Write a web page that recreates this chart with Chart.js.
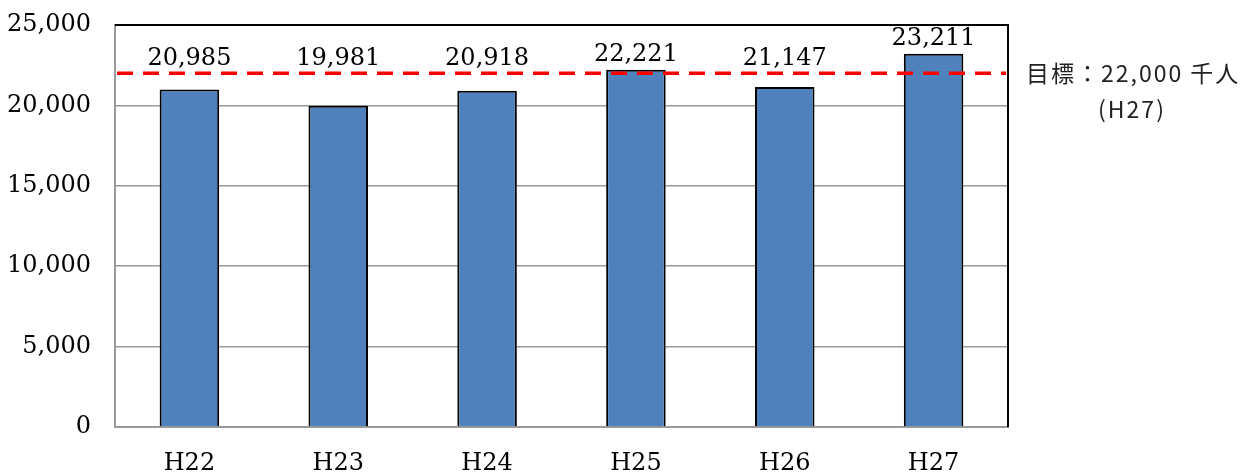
<!DOCTYPE html>
<html>
<head>
<meta charset="utf-8">
<script src="https://cdn.jsdelivr.net/npm/chart.js@4/dist/chart.umd.min.js"></script>
<style>
  html, body { margin: 0; padding: 0; background: #fff; }
  #wrap { width: 1256px; height: 473px; }
</style>
</head>
<body>
<div id="wrap"><canvas id="myChart" width="1256" height="473"></canvas></div>
<script>
const years = ['H22', 'H23', 'H24', 'H25', 'H26', 'H27'];
const visitors = [20985, 19981, 20918, 22221, 21147, 23211];
const target = 22000;
const targetLabel = ['目標：22,000 千人', '(H27)'];

const serif = '"DejaVu Serif", "Liberation Serif", serif';
const fmt = (v) => v.toLocaleString('en-US');

// bar values on top, target line, frame
const extras = {
  id: 'extras',
  afterDatasetsDraw(chart) {
    const c = chart.ctx;
    const area = chart.chartArea;
    const y = chart.scales.y;

    // dashed target line over the bars
    const ty = y.getPixelForValue(target);
    c.save();
    c.strokeStyle = '#ff0000';
    c.lineWidth = 3.5;
    c.setLineDash([16, 10]);
    c.beginPath();
    c.moveTo(area.left + 2, ty);
    c.lineTo(area.right - 2, ty);
    c.stroke();
    c.restore();

    // black top and right frame
    c.save();
    c.strokeStyle = '#000';
    c.lineWidth = 2;
    c.beginPath();
    c.moveTo(area.left, area.top);
    c.lineTo(area.right, area.top);
    c.lineTo(area.right, area.bottom);
    c.stroke();
    c.restore();

    // value labels
    const meta = chart.getDatasetMeta(0);
    const row = y.getPixelForValue(22900);
    c.save();
    c.font = '24px ' + serif;
    c.fillStyle = '#000';
    c.textAlign = 'center';
    c.textBaseline = 'middle';
    meta.data.forEach((bar, i) => {
      const ly = Math.min(row, bar.y - 15);
      c.fillText(fmt(visitors[i]), bar.x, ly);
    });
    c.restore();

    // target note on the right
    c.save();
    c.font = '23px "Noto Sans CJK JP", sans-serif';
    c.letterSpacing = '2px';
    c.fillStyle = '#222';
    c.textBaseline = 'middle';
    c.textAlign = 'left';
    c.fillText(targetLabel[0], area.right + 18, ty);
    c.textAlign = 'center';
    c.fillText(targetLabel[1], area.right + 124, ty + 36);
    c.restore();
  }
};

new Chart(document.getElementById('myChart'), {
  type: 'bar',
  data: {
    labels: years,
    datasets: [{
      data: visitors,
      backgroundColor: '#4f81bd',
      borderColor: '#000',
      borderWidth: 2,
      barPercentage: 0.40,
      categoryPercentage: 1.0
    }]
  },
  options: {
    responsive: false,
    animation: false,
    layout: { padding: { left: 0, right: 248, top: 25, bottom: 0 } },
    plugins: { legend: { display: false }, tooltip: { enabled: false } },
    scales: {
      x: {
        afterFit: (s) => { s.height = 46; },
        grid: { display: false },
        border: { color: '#999', width: 2 },
        ticks: { color: '#000', font: { family: serif, size: 24 }, padding: 14 }
      },
      y: {
        min: 0,
        max: 25000,
        afterFit: (s) => { s.width = 115; s.paddingTop = 0; s.paddingBottom = 0; },
        grid: { color: '#999', lineWidth: 1.5, drawTicks: false },
        border: { color: '#999', width: 2 },
        ticks: {
          stepSize: 5000,
          color: '#000',
          padding: 24,
          font: { family: serif, size: 24 },
          callback: (v) => fmt(v)
        }
      }
    }
  },
  plugins: [extras]
});
</script>
</body>
</html>
